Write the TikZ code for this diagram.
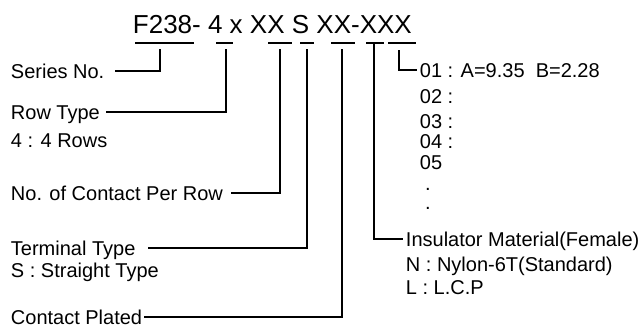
\documentclass[tikz,border=0pt]{standalone}
\usepackage{fontspec}
\setmainfont{Liberation Sans}
\usepackage{tikz}

\begin{document}
\begin{tikzpicture}[x=1pt,y=-1pt,line width=1.9pt,
  lbl/.style={anchor=west,inner sep=0pt,text height=14.3pt,text depth=0pt,font=\fontsize{20}{24}\selectfont},
  dotmark/.style={anchor=base,inner sep=0pt,font=\fontsize{20}{24}\selectfont}]
\useasboundingbox (0,0) rectangle (643,327);
\node[anchor=base west,inner sep=0pt,font=\fontsize{26}{30}\selectfont] (code) at (132,33) {F238- 4 x XX S XX-XXX};
\foreach \a/\b in {135/194,216/233,268/292,300/314,331/355,366/384,388/416}
  \draw (\a,43) -- (\b,43);
\coordinate (cF) at (160,49);
\coordinate (cRow) at (226,49);
\coordinate (cPin) at (280,49);
\coordinate (cS) at (307,49);
\coordinate (cPl) at (342,49);
\coordinate (cIns) at (374,43);
\coordinate (cLen) at (399,50);
\node[lbl] (series) at (10,71) {Series No.};
\node[lbl] (row) at (10,112) {Row Type};
\node[lbl] (rowopt) at (10,140) {4 : 4 Rows};
\node[lbl] (contact) at (10,193) {No. of Contact Per Row};
\node[lbl] (term) at (10,248) {Terminal Type};
\node[lbl] (termopt) at (10,270) {S : Straight Type};
\node[lbl] (plated) at (10,317) {Contact Plated};
\node[lbl] (len1) at (419,70) {01 : A=9.35~~B=2.28};
\node[lbl] (len2) at (419,96) {02 :};
\node[lbl] (len3) at (419,121) {03 :};
\node[lbl] (len4) at (419,141) {04 :};
\node[lbl] (len5) at (419,162) {05};
\node[dotmark] (dotA) at (428,190) {.};
\node[dotmark] (dotB) at (428,209) {.};
\node[lbl] (ins) at (405,239) {Insulator Material(Female)};
\node[lbl] (insN) at (405,264) {N : Nylon-6T(Standard)};
\node[lbl] (insL) at (405,287) {L : L.C.P};
\draw (cF) |- ([xshift=10pt]series.east);
\draw (cRow) |- ([xshift=5pt]row.east);
\draw (cPin) |- ([xshift=7pt]contact.east);
\draw (cS) |- ([xshift=12pt]term.east);
\draw (cPl) |- ([xshift=1pt]plated.east);
\draw (cIns) |- ([xshift=-2pt]ins.west);
\draw (cLen) |- ([xshift=-2pt]len1.west);
\end{tikzpicture}
\end{document}
